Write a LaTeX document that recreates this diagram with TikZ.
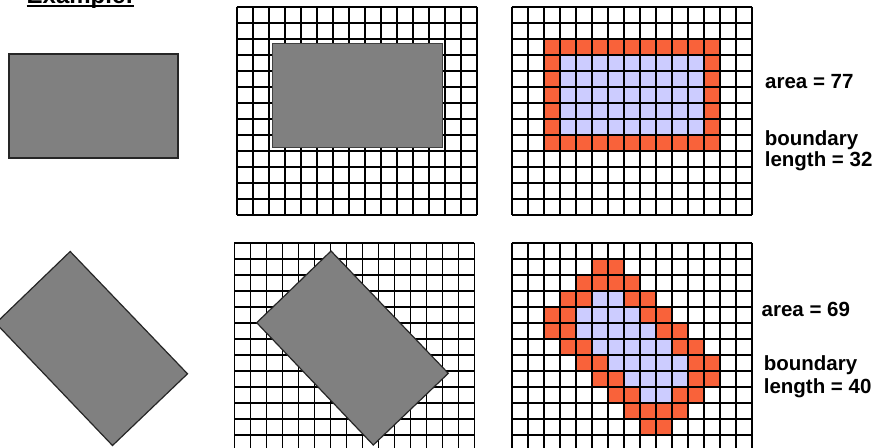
\documentclass[tikz,border=0pt]{standalone}
\usepackage{fontspec}
\setmainfont{Liberation Sans}
\definecolor{boundcol}{HTML}{F9623A}
\definecolor{insidecol}{HTML}{CCCCFF}
\definecolor{shapegray}{HTML}{808080}
\begin{document}
\begin{tikzpicture}[x=1pt,y=-1pt,
  gl/.style={draw=black,line width=1.6pt},
  shapebox/.style={fill=shapegray,draw=black!85,line width=1.2pt,line join=miter},
  lbl/.style={anchor=base west,inner sep=0pt,font=\fontsize{20.5}{22}\selectfont\bfseries},
  bcell/.style={fill=boundcol},
  icell/.style={fill=insidecol}]
\useasboundingbox (0,0) rectangle (882,447);
\clip (0,0) rectangle (882,447);
\fill[white] (0,0) rectangle (882,447);

% title
\node[anchor=base west,inner sep=0pt,font=\fontsize{24}{26}\selectfont\bfseries] (ex) at (26.5,4) {Example:};
\draw[line width=1.7pt] ([yshift=-1.9pt]ex.base west) -- ([yshift=-1.9pt]ex.base east);

% ---------- top row ----------
\draw[shapebox] (9,54) rectangle (178,158);

\begin{scope}[shift={(236.7,6.7)}]
  \foreach \i in {0,...,15} \draw[gl] (16*\i,0) -- (16*\i,208);
  \foreach \j in {0,...,13} \draw[gl] (0,16*\j) -- (240,16*\j);
  \draw[shapebox,draw=black!75] (36,37) rectangle (206,141);
\end{scope}

\begin{scope}[shift={(511.7,6.7)}]
  \foreach \r in {2,...,8} \foreach \c in {2,...,12} \fill[bcell] (16*\c,16*\r) rectangle ++(16,16);
  \foreach \r in {3,...,7} \foreach \c in {3,...,11} \fill[icell] (16*\c,16*\r) rectangle ++(16,16);
  \foreach \i in {0,...,15} \draw[gl] (16*\i,0) -- (16*\i,208);
  \foreach \j in {0,...,13} \draw[gl] (0,16*\j) -- (240,16*\j);
\end{scope}

\node[lbl] (a1) at (765,88.5) {area = 77};
\node[lbl] (b1) at (764.6,145) {boundary};
\node[lbl] (l1) at (764.6,166.7) {length = 32};

% ---------- bottom row ----------
\draw[shapebox] (70.2,251.5) -- (187.5,373.8) -- (112.5,445.5) -- (-4.2,323.2) -- cycle;

\begin{scope}[shift={(234.3,242.7)}]
  \foreach \i in {0,...,15} \draw[gl] (16*\i,0) -- (16*\i,208);
  \foreach \j in {0,...,13} \draw[gl] (0,16*\j) -- (240,16*\j);
\end{scope}
\draw[shapebox] (331,251) -- (448.3,373.3) -- (373.3,445) -- (256.7,322.7) -- cycle;

\begin{scope}[shift={(511.7,242.7)}]
  \foreach \c/\r in {5/1,6/1, 4/2,5/2,6/2,7/2, 3/3,4/3,7/3,8/3, 2/4,3/4,8/4,9/4,
                     2/5,3/5,9/5,10/5, 3/6,4/6,10/6,11/6, 4/7,5/7,11/7,12/7,
                     5/8,6/8,11/8,12/8, 6/9,7/9,10/9,11/9, 7/10,8/10,9/10,10/10, 8/11,9/11}
    \fill[bcell] (16*\c,16*\r) rectangle ++(16,16);
  \foreach \c/\r in {5/3,6/3, 4/4,5/4,6/4,7/4, 4/5,5/5,6/5,7/5,8/5, 5/6,6/6,7/6,8/6,9/6,
                     6/7,7/7,8/7,9/7,10/7, 7/8,8/8,9/8,10/8, 8/9,9/9}
    \fill[icell] (16*\c,16*\r) rectangle ++(16,16);
  \foreach \i in {0,...,15} \draw[gl] (16*\i,0) -- (16*\i,208);
  \foreach \j in {0,...,13} \draw[gl] (0,16*\j) -- (240,16*\j);
\end{scope}

\node[lbl] (a2) at (761.5,316) {area = 69};
\node[lbl] (b2) at (763.6,370) {boundary};
\node[lbl] (l2) at (763.6,393.3) {length = 40};
\end{tikzpicture}
\end{document}
